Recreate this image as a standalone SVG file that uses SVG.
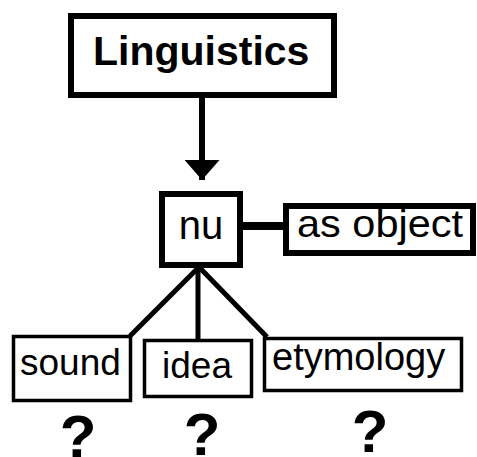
<svg xmlns="http://www.w3.org/2000/svg" width="477" height="457" viewBox="0 0 477 457">
<style>
  .box { fill: #fff; stroke: #000; }
  .thick { stroke-width: 6; }
  .thin { stroke-width: 3.5; }
  text { font-family: "Liberation Sans", Arial, sans-serif; fill: #000; }
  .q { font-size: 60px; font-weight: bold; text-anchor: middle; }
  .conn { stroke: #000; fill: none; }
</style>
<defs>
  <marker id="arrow" markerUnits="userSpaceOnUse" markerWidth="20" markerHeight="35" refX="20" refY="17.5" orient="auto" viewBox="0 0 20 35">
    <path d="M0,0 L20,17.5 L0,35 Z" fill="#000"/>
  </marker>
</defs>
<rect width="477" height="457" fill="#fff"/>
<g id="connectors">
  <line class="conn" x1="202" y1="97" x2="202" y2="180" stroke-width="6" marker-end="url(#arrow)"/>
  <line class="conn" x1="243" y1="226" x2="284" y2="226" stroke-width="8"/>
  <line class="conn" x1="199" y1="267" x2="130" y2="336" stroke-width="5"/>
  <line class="conn" x1="198" y1="267" x2="198" y2="340" stroke-width="5"/>
  <line class="conn" x1="199" y1="267" x2="267" y2="337" stroke-width="5"/>
</g>
<g id="linguistics">
  <rect class="box thick" x="71" y="16" width="263" height="79"/>
  <text x="93" y="65" font-size="41" font-weight="bold">Linguistics</text>
</g>
<g id="nu">
  <rect class="box thick" x="162" y="194" width="78" height="71"/>
  <text x="201" y="239" font-size="40" text-anchor="middle">nu</text>
</g>
<g id="as-object">
  <rect class="box thick" x="286" y="206" width="187" height="47"/>
  <text x="297" y="237" font-size="39" textLength="166" lengthAdjust="spacingAndGlyphs">as object</text>
</g>
<g id="sound">
  <rect class="box thin" x="13.5" y="336.5" width="117" height="64"/>
  <text x="20" y="375" font-size="37">sound</text>
</g>
<g id="idea">
  <rect class="box thin" x="144.5" y="340.5" width="107" height="56"/>
  <text x="162" y="378" font-size="37">idea</text>
</g>
<g id="etymology">
  <rect class="box thin" x="264.5" y="338.5" width="197" height="52"/>
  <text x="272" y="370" font-size="38">etymology</text>
</g>
<g id="questions">
  <text class="q" x="78" y="457">?</text>
  <text class="q" x="202" y="455">?</text>
  <text class="q" x="370" y="452">?</text>
</g>
</svg>
